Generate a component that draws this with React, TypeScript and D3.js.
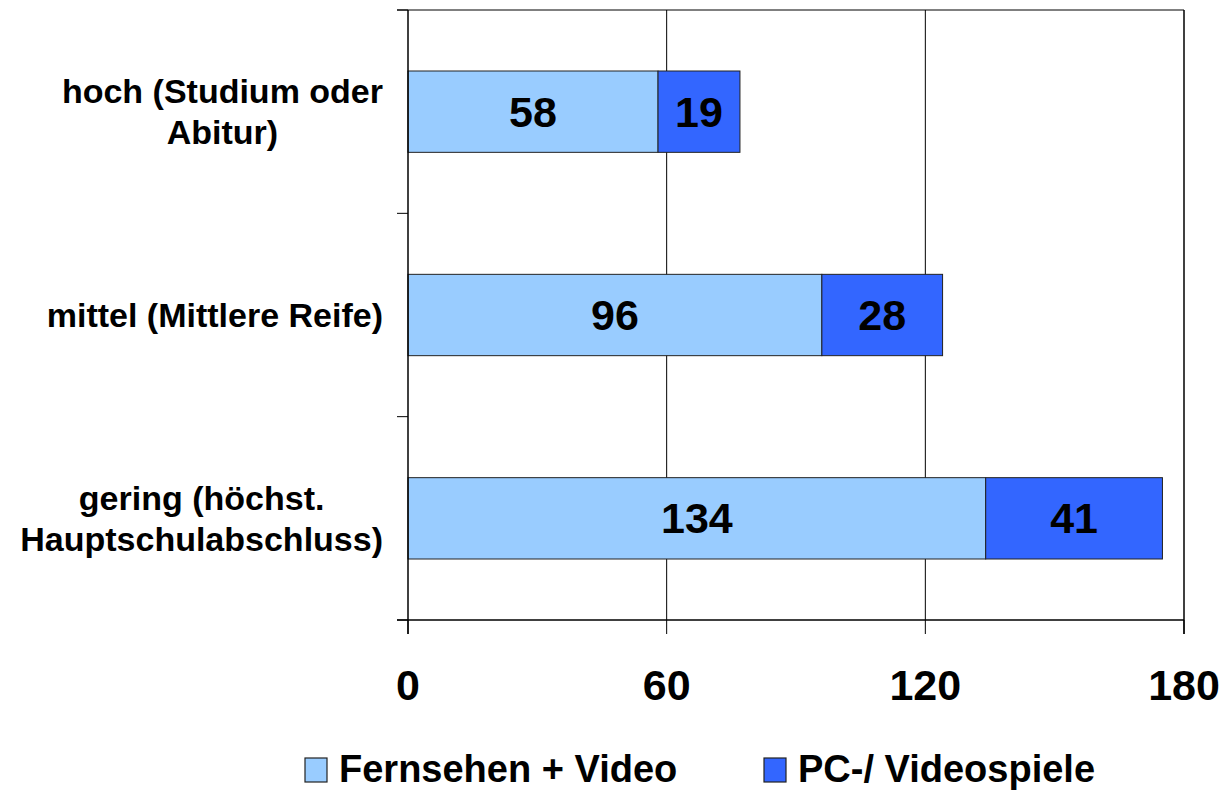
import React from "react";
import * as d3 from "d3";

const categories: string[][] = [
  ["hoch (Studium oder", "Abitur)"],
  ["mittel (Mittlere Reife)"],
  ["gering (höchst.", "Hauptschulabschluss)"],
];
const categoryKeys = ["hoch", "mittel", "gering"];
const seriesNames = ["Fernsehen + Video", "PC-/ Videospiele"];
const tvVideo = [58, 96, 134];
const pcGames = [19, 28, 41];
const xTicks = [0, 60, 120, 180];
const colors = ["#99CCFF", "#3366FF"];

const FONT = "'Liberation Sans', Arial, sans-serif";

function measure(text: string, size: number): number {
  if (typeof document === "undefined") return text.length * size * 0.55;
  const c = document.createElement("canvas");
  const ctx = c.getContext("2d");
  if (!ctx) return text.length * size * 0.55;
  ctx.font = `bold ${size}px ${FONT}`;
  return ctx.measureText(text).width;
}

export default function App() {
  const W = 1225, H = 790;
  const left = 408, right = 1184, top = 10, bottom = 620;
  const x = d3.scaleLinear().domain([0, 180]).range([left, right]);
  const y = d3.scaleBand().domain(categoryKeys).range([top, bottom]).paddingInner(0.6).paddingOuter(0.3);
  const yOuter = d3.scaleBand().domain(categoryKeys).range([top, bottom]);

  const stackData = categoryKeys.map((k, i) => ({ key: k, a: tvVideo[i], b: pcGames[i] }));
  const stack = d3.stack<any>().keys(["a", "b"])(stackData);

  const catSize = 34;
  const lineH = 41;
  const labelRight = 383;

  const catTickYs = [top, ...categoryKeys.map((k) => (yOuter(k) as number) + yOuter.bandwidth())];

  return (
    <svg width={W} height={H} style={{ position: "absolute", left: 0, top: 0, background: "#fff" }} fontFamily={FONT}>
      {/* gridlines */}
      {xTicks.slice(1, 3).map((t) => (
        <line key={"g" + t} x1={x(t)} x2={x(t)} y1={top} y2={bottom} stroke="#000" strokeWidth={1} />
      ))}
      {/* bars */}
      {stack.map((s, si) =>
        s.map((d: any, i: number) => {
          const x0 = x(d[0]), x1 = x(d[1]);
          const yy = y(categoryKeys[i]) as number;
          const bh = y.bandwidth();
          return (
            <g key={si + "-" + i}>
              <rect x={x0} y={yy} width={x1 - x0} height={bh} fill={colors[si]} stroke="#222" strokeWidth={1} />
              <text x={(x0 + x1) / 2} y={yy + bh / 2 + 15} textAnchor="middle" fontSize={43} fontWeight="bold" fill="#000">
                {d[1] - d[0]}
              </text>
            </g>
          );
        })
      )}
      {/* plot borders */}
      <line x1={left - 11} x2={right} y1={top} y2={top} stroke="#000" strokeWidth={1} />
      <line x1={right} x2={right} y1={top} y2={bottom + 14} stroke="#000" strokeWidth={1.5} />
      <line x1={left} x2={left} y1={top} y2={bottom + 14} stroke="#000" strokeWidth={1.5} />
      <line x1={left - 11} x2={right} y1={bottom} y2={bottom} stroke="#000" strokeWidth={1.5} />
      {catTickYs.map((ty, i) => (
        <line key={"ct" + i} x1={left - 11} x2={left} y1={ty} y2={ty} stroke="#000" strokeWidth={1} />
      ))}
      {xTicks.map((t) => (
        <g key={"xt" + t}>
          <line x1={x(t)} x2={x(t)} y1={bottom} y2={bottom + 14} stroke="#000" strokeWidth={1} />
          <text x={x(t)} y={700} textAnchor="middle" fontSize={43} fontWeight="bold" fill="#000">
            {t}
          </text>
        </g>
      ))}
      {/* category labels */}
      {categories.map((lines, i) => {
        const cy = (yOuter(categoryKeys[i]) as number) + yOuter.bandwidth() / 2;
        const maxW = Math.max(...lines.map((l) => measure(l, catSize)));
        const cx = labelRight - maxW / 2;
        const firstY = cy - ((lines.length - 1) * lineH) / 2 + 12;
        return (
          <text key={"cat" + i} textAnchor="middle" fontSize={catSize} fontWeight="bold" fill="#000">
            {lines.map((l, j) => (
              <tspan key={j} x={cx} y={firstY + j * lineH}>
                {l}
              </tspan>
            ))}
          </text>
        );
      })}
      {/* legend */}
      {seriesNames.map((n, i) => {
        const lx = [305, 764][i];
        return (
          <g key={"lg" + i}>
            <rect x={lx} y={758} width={22} height={24} fill={colors[i]} stroke="#222" strokeWidth={1.2} />
            <text x={lx + 34} y={782} fontSize={38} fontWeight="bold" fill="#000">
              {n}
            </text>
          </g>
        );
      })}
    </svg>
  );
}
